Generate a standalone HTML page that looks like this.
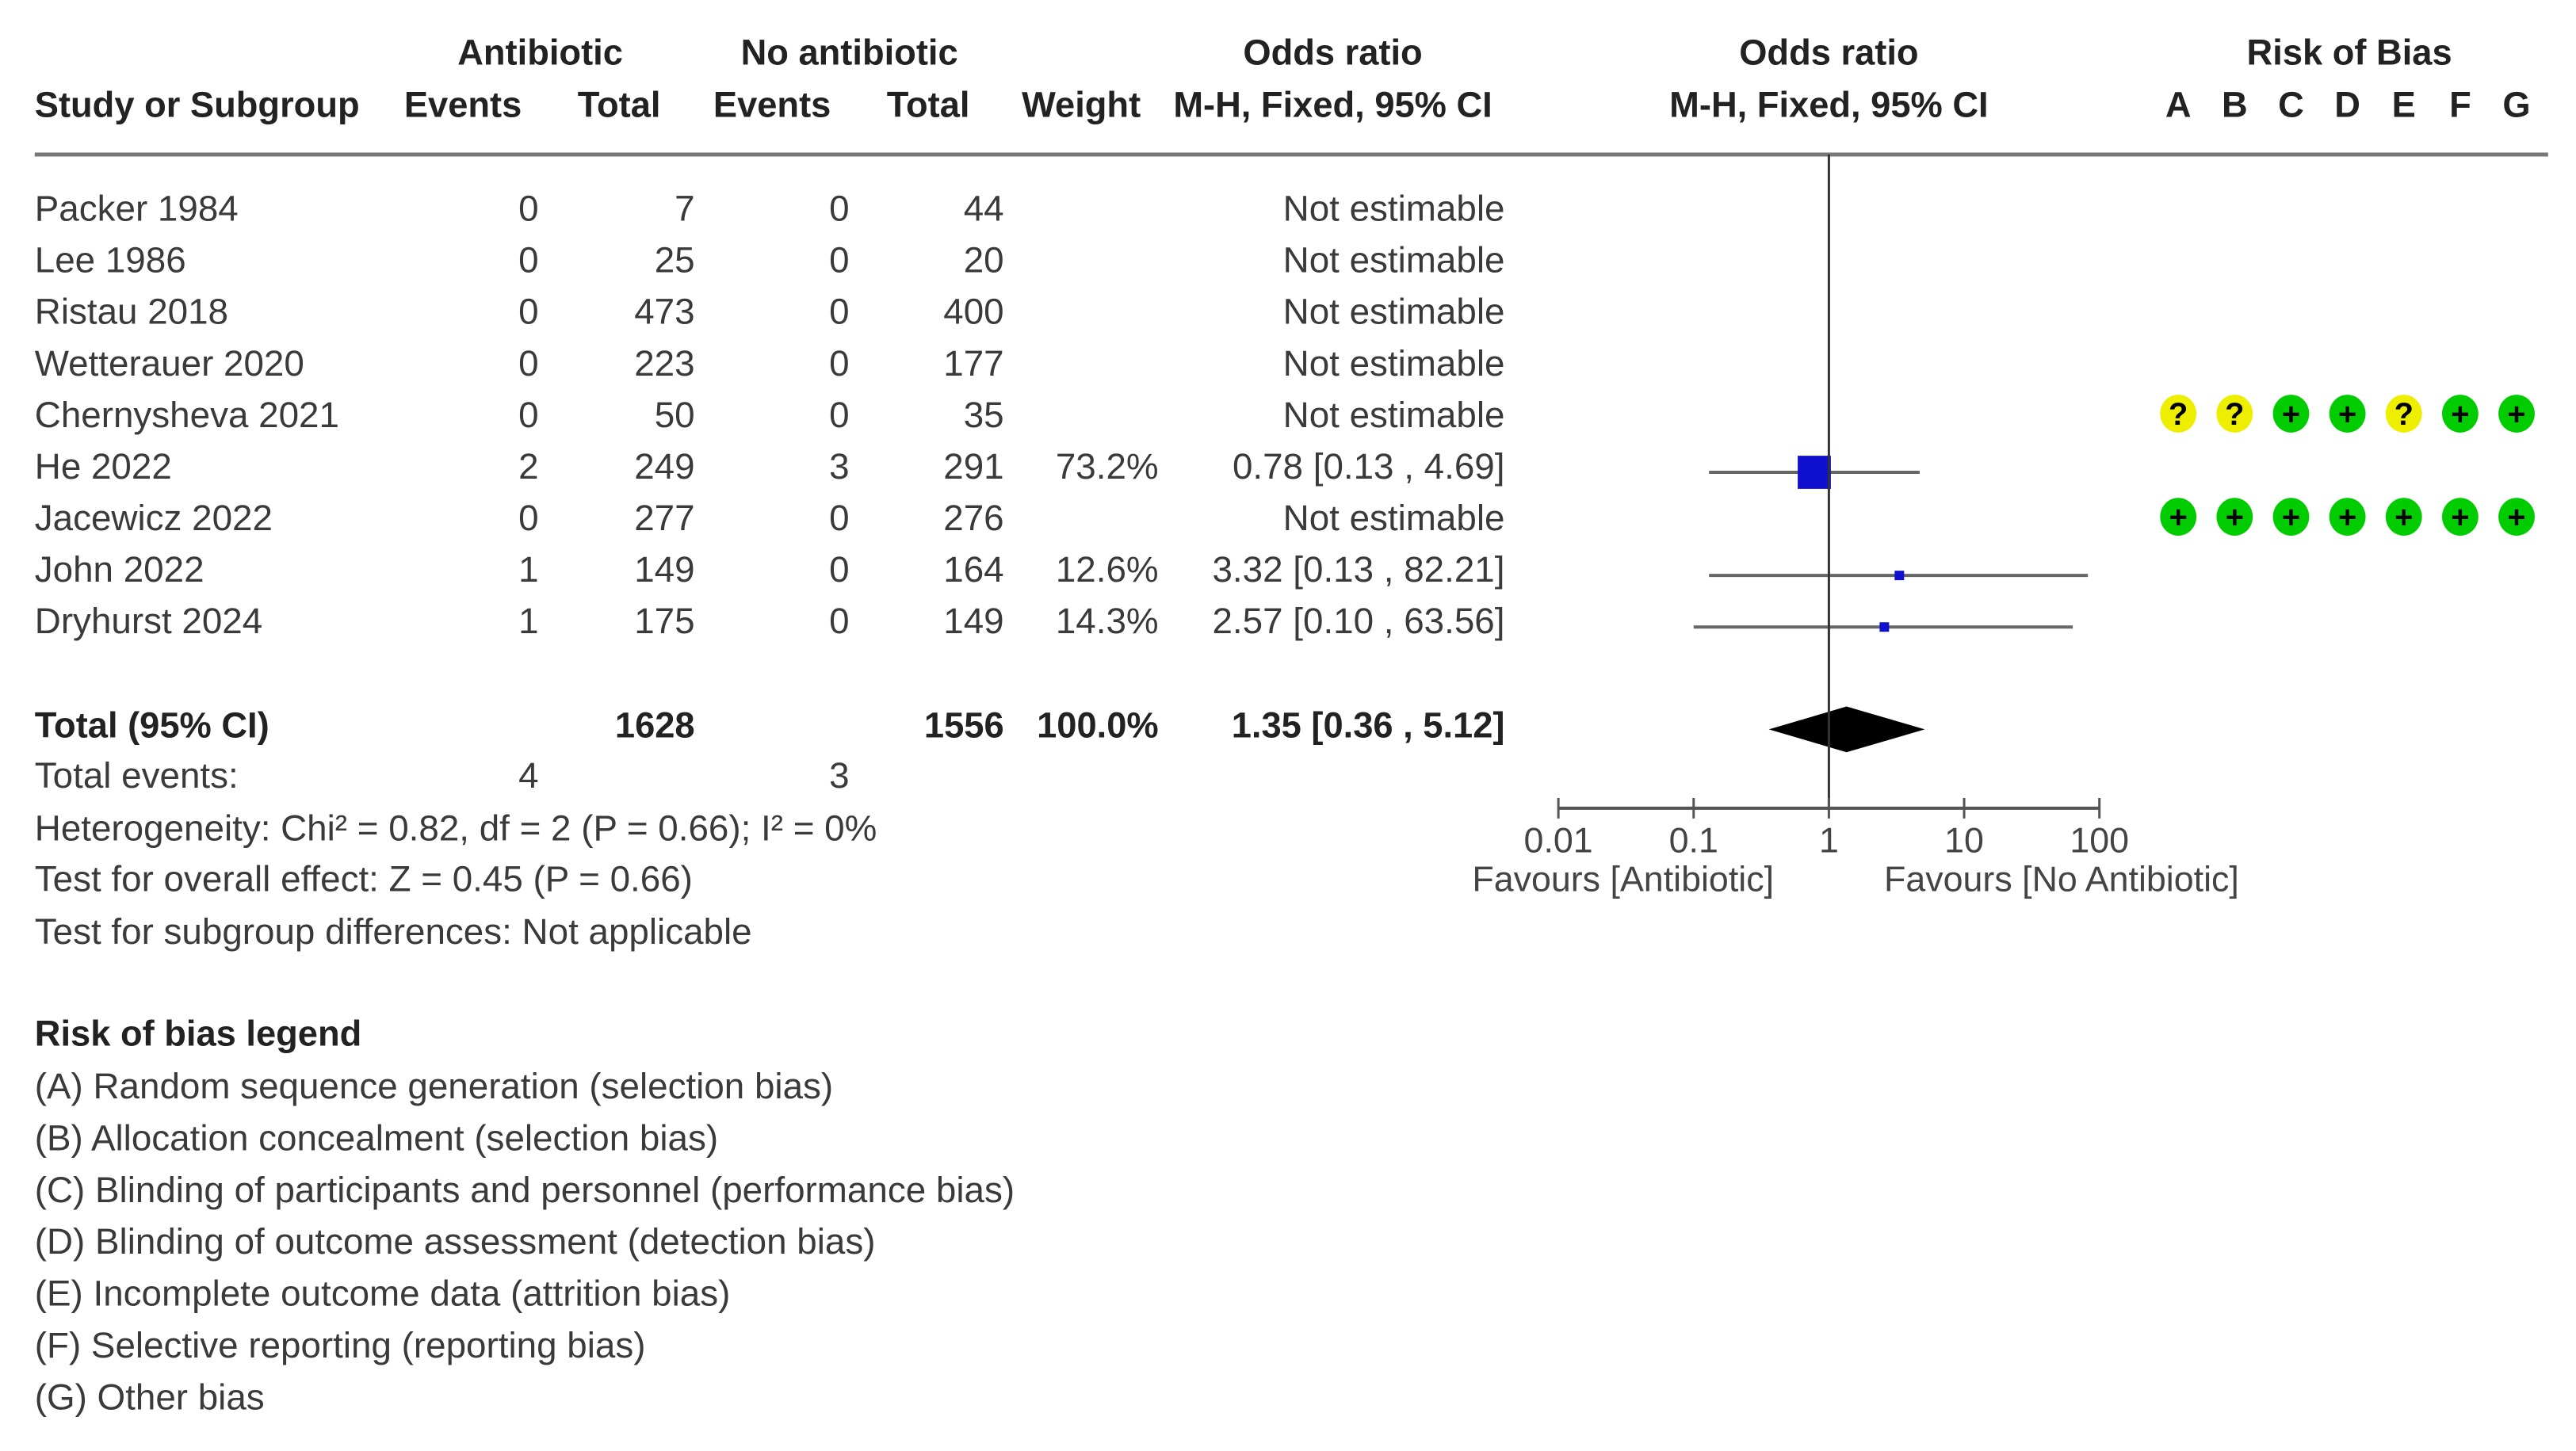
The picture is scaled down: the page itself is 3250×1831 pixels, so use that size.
<!DOCTYPE html>
<html><head><meta charset="utf-8"><style>
html,body{margin:0;padding:0;background:#fff;}
svg{display:block;font-family:"Liberation Sans",Arial,sans-serif;}
</style></head><body>
<svg id="c" width="3250" height="1831" viewBox="0 0 3250 1831">
<g transform="scale(0.995)">
<g id="hdr" fill="#222" font-weight="bold" font-size="45.5" text-anchor="middle">
<text x="685" y="82">Antibiotic</text>
<text x="1077" y="82">No antibiotic</text>
<text x="1690" y="82">Odds ratio</text>
<text x="2319" y="82">Odds ratio</text>
<text x="2979" y="82">Risk of Bias</text>
<text x="44" y="148" text-anchor="start">Study or Subgroup</text>
<text x="587" y="148">Events</text>
<text x="785" y="148">Total</text>
<text x="979" y="148">Events</text>
<text x="1177" y="148">Total</text>
<text x="1371" y="148">Weight</text>
<text x="1690" y="148">M-H, Fixed, 95% CI</text>
<text x="2319" y="148">M-H, Fixed, 95% CI</text>
</g>
<line x1="44" y1="196" x2="3231" y2="196" stroke="#777" stroke-width="5"/>
<g id="rows" fill="#3a3a3a" font-size="46"></g>
<g id="plot"></g>
<g id="rob"></g>
<g id="foot" fill="#3a3a3a" font-size="46"></g>
</g>
</svg>
<script>
const studies=["Packer 1984","Lee 1986","Ristau 2018","Wetterauer 2020","Chernysheva 2021","He 2022","Jacewicz 2022","John 2022","Dryhurst 2024"];
const abEvents=[0,0,0,0,0,2,0,1,1];
const abTotal=[7,25,473,223,50,249,277,149,175];
const noEvents=[0,0,0,0,0,3,0,0,0];
const noTotal=[44,20,400,177,35,291,276,164,149];
const weights=["","","","","","73.2%","","12.6%","14.3%"];
const orVal=[null,null,null,null,null,0.78,null,3.32,2.57];
const ciLow=[null,null,null,null,null,0.13,null,0.13,0.10];
const ciHigh=[null,null,null,null,null,4.69,null,82.21,63.56];
const boxSize=[0,0,0,0,0,42,0,12,12];
const total={ab:1628,no:1556,w:"100.0%",or:1.35,lo:0.36,hi:5.12,abEv:4,noEv:3};
const ticks=[0.01,0.1,1,10,100];
const tickLabels=["0.01","0.1","1","10","100"];
const robLetters=["A","B","C","D","E","F","G"];
const robRows={4:["?","?","+","+","?","+","+"],6:["+","+","+","+","+","+","+"]};

const NS="http://www.w3.org/2000/svg";
function mk(tag,attrs,parent,txt){const e=document.createElementNS(NS,tag);for(const k in attrs)e.setAttribute(k,attrs[k]);if(txt!==undefined)e.textContent=txt;parent.appendChild(e);return e;}
const rowY=i=>264+i*65.4;
const xs=v=>2319+Math.log10(v)*171.5;
const rows=document.getElementById('rows'),plot=document.getElementById('plot'),rob=document.getElementById('rob'),foot=document.getElementById('foot');
function fmt(v){return v.toFixed(2);}
studies.forEach((s,i)=>{
  const y=rowY(i)+16;
  const g=mk('g',{},rows);
  
  
  mk('text',{x:44,y:y},g,s);
  mk('text',{x:683,y:y,'text-anchor':'end'},g,abEvents[i]);
  mk('text',{x:881,y:y,'text-anchor':'end'},g,abTotal[i]);
  mk('text',{x:1077,y:y,'text-anchor':'end'},g,noEvents[i]);
  mk('text',{x:1273,y:y,'text-anchor':'end'},g,noTotal[i]);
  if(weights[i])mk('text',{x:1469,y:y,'text-anchor':'end'},g,weights[i]);
  mk('text',{x:1908,y:y,'text-anchor':'end'},g,orVal[i]==null?"Not estimable":fmt(orVal[i])+" ["+fmt(ciLow[i])+" , "+fmt(ciHigh[i])+"]");
  if(orVal[i]!=null){
    const cy=rowY(i)+8;
    const l=mk('line',{x1:xs(ciLow[i]),x2:xs(ciHigh[i]),y1:cy,y2:cy,stroke:'#666','stroke-width':4},plot);
    
    
    const b=boxSize[i];
    const r=mk('rect',{x:xs(orVal[i])-b/2,y:cy-b/2,width:b,height:b,fill:'#1010d0'},plot);
    
    
  }
  if(robRows[i]){
    robRows[i].forEach((v,k)=>{
      const cx=2762+k*71.5,cy=rowY(i)-1;
      const gg=mk('g',{},rob);
      
      
      mk('ellipse',{cx:cx,cy:cy,rx:23,ry:24,fill:v==="?"?'#eeee00':'#00cc00'},gg);
      mk('text',{x:cx,y:cy+14,'text-anchor':'middle','font-size':40,'font-weight':'bold',fill:'#000'},gg,v);
    });
  }
});
robLetters.forEach((L,k)=>{
  const t=mk('text',{x:2762+k*71.5,y:148,'text-anchor':'middle','font-size':45.5,'font-weight':'bold',fill:'#222'},rob,L);
  
  
});
const ty=919+16;
const tg=mk('g',{'font-weight':'bold',fill:'#222','font-size':45.5},foot);


mk('text',{x:44,y:ty},tg,"Total (95% CI)");
mk('text',{x:881,y:ty,'text-anchor':'end'},tg,total.ab);
mk('text',{x:1273,y:ty,'text-anchor':'end'},tg,total.no);
mk('text',{x:1469,y:ty,'text-anchor':'end'},tg,total.w);
mk('text',{x:1908,y:ty,'text-anchor':'end'},tg,fmt(total.or)+" ["+fmt(total.lo)+" , "+fmt(total.hi)+"]");
mk('text',{x:44,y:983+16},foot,"Total events:");
mk('text',{x:683,y:983+16,'text-anchor':'end'},foot,total.abEv);
mk('text',{x:1077,y:983+16,'text-anchor':'end'},foot,total.noEv);
mk('text',{x:44,y:1050+16},foot,"Heterogeneity: Chi\u00b2 = 0.82, df = 2 (P = 0.66); I\u00b2 = 0%");
mk('text',{x:44,y:1114+16},foot,"Test for overall effect: Z = 0.45 (P = 0.66)");
mk('text',{x:44,y:1181+16},foot,"Test for subgroup differences: Not applicable");
const lg=mk('text',{x:44,y:1310+16,'font-weight':'bold',fill:'#222','font-size':45.5},foot,"Risk of bias legend");


["(A) Random sequence generation (selection bias)","(B) Allocation concealment (selection bias)","(C) Blinding of participants and personnel (performance bias)","(D) Blinding of outcome assessment (detection bias)","(E) Incomplete outcome data (attrition bias)","(F) Selective reporting (reporting bias)","(G) Other bias"].forEach((t,k)=>{
  const e=mk('text',{x:44,y:1377+k*65.7+16},foot,t);
  
  
});
const dy=925,dh=29;
const d=mk('polygon',{points:`${xs(total.lo)},${dy} ${xs(total.or)},${dy-dh} ${xs(total.hi)},${dy} ${xs(total.or)},${dy+dh}`,fill:'#000'},plot);


const nl=mk('line',{x1:xs(1),x2:xs(1),y1:196,y2:1025,stroke:'#333','stroke-width':3},plot);


const ax=mk('line',{x1:xs(ticks[0]),x2:xs(ticks[ticks.length-1]),y1:1025,y2:1025,stroke:'#555','stroke-width':4},plot);


ticks.forEach((t,k)=>{
  mk('line',{x1:xs(t),x2:xs(t),y1:1012,y2:1038,stroke:'#555','stroke-width':3},plot);
  const tl=mk('text',{x:xs(t),y:1081,'text-anchor':'middle','font-size':45,fill:'#444'},plot,tickLabels[k]);
  
  
});
const f1=mk('text',{x:2058,y:1130,'text-anchor':'middle','font-size':45,fill:'#444'},plot,"Favours [Antibiotic]");


const f2=mk('text',{x:2614,y:1130,'text-anchor':'middle','font-size':45,fill:'#444'},plot,"Favours [No Antibiotic]");


</script>
</body></html>
